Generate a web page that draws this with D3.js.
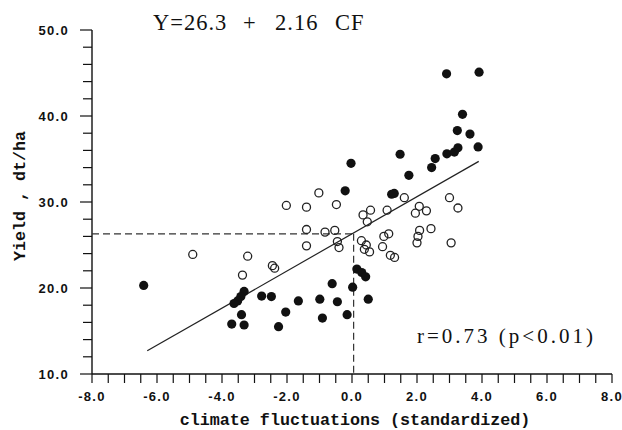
<!DOCTYPE html>
<html><head><meta charset="utf-8">
<script src="https://cdn.jsdelivr.net/npm/d3@7"></script>
<style>html,body{margin:0;padding:0;background:#fff;}svg{display:block;}</style>
</head><body>
<script>
// ---- data ----
const filledX = [2.91, 3.91, 3.40, 3.24, 3.63, 3.88, 2.92, 3.15, 3.26, 2.56, 2.45, 1.48, 1.75, -0.03, -0.21, 1.22, 1.30,
                 0.15, 0.30, 0.42, -6.41, -3.32, -3.42, -3.52, -3.63, -2.78, -2.48, -3.40, -3.70, -3.32, -2.26, -2.04, -1.65, -0.99, -0.61, -0.45, 0.02, 0.50, -0.91, -0.15];
const filledY = [44.9, 45.1, 40.2, 38.3, 37.9, 36.4, 35.6, 35.8, 36.3, 35.05, 34.0, 35.55, 33.1, 34.5, 31.3, 30.9, 31.0,
                 22.2, 21.8, 21.3, 20.3, 19.6, 19.0, 18.5, 18.2, 19.06, 19.0, 16.9, 15.8, 15.7, 15.5, 17.2, 18.5, 18.7, 20.5, 18.4, 20.1, 18.7, 16.5, 16.9];
const openX = [-4.90, -2.02, -1.40, -1.40, -1.40, -3.21, -3.37, -2.45, -2.38, -1.02, -0.48, -0.83, -0.53, -0.45, -0.40,
               1.61, 0.57, 0.34, 0.47, 1.08, 2.07, 1.95, 2.29, 3.00, 3.26, 2.08, 2.43, 2.03, 2.00, 3.05, 0.29, 0.44, 0.38, 0.54, 0.98, 1.13, 0.94, 1.18, 1.31];
const openY = [23.9, 29.6, 29.4, 26.8, 24.9, 23.7, 21.5, 22.6, 22.3, 31.06, 29.7, 26.5, 26.7, 25.4, 24.7,
               30.5, 29.05, 28.5, 27.7, 29.05, 29.5, 28.7, 28.97, 30.5, 29.3, 26.7, 26.9, 26.0, 25.25, 25.25, 25.5, 25.0, 24.5, 24.2, 26.0, 26.3, 24.8, 23.8, 23.55];
const intercept = 26.3, slope = 2.16;
const fitRange = [-6.3, 3.9];
const refPoint = [0.05, 26.3];
const xTickValues = [-8, -6, -4, -2, 0, 2, 4, 6, 8];
const yTickValues = [10, 20, 30, 40, 50];
const titleText = ["Y=26.3", "+", "2.16", "CF"];
const statText = "r=0.73 (p<0.01)";
const xTitle = "climate fluctuations (standardized)";
const yTitle = "Yield , dt/ha";

// ---- layout ----
const W = 622, H = 430;
const x = d3.scaleLinear().domain([-8, 8]).range([92, 612]);
const y = d3.scaleLinear().domain([10, 50]).range([374, 30]);
const ink = "#111";

const svg = d3.select("body").append("svg").attr("width", W).attr("height", H);

// axes
const xAxis = svg.append("g").attr("transform", `translate(0,${y(10)})`);
xAxis.append("line").attr("x1", x(-8)).attr("x2", x(8)).attr("stroke", ink).attr("stroke-width", 1.4);
xAxis.selectAll("line.t").data(d3.range(-8, 8.001, 0.5)).join("line").attr("class", "t")
  .attr("x1", d => x(d)).attr("x2", d => x(d)).attr("y1", 0).attr("y2", 9)
  .attr("stroke", ink).attr("stroke-width", 1.2);
xAxis.selectAll("text").data(xTickValues).join("text")
  .attr("x", d => x(d)).attr("y", 27).attr("text-anchor", "middle")
  .attr("font-family", "Liberation Sans, Arial, sans-serif").attr("font-weight", "bold")
  .attr("font-size", 13).attr("letter-spacing", 1.3).attr("fill", ink)
  .text(d => d3.format(".1f")(d).replace("\u2212", "-"));

const yAxis = svg.append("g").attr("transform", `translate(${x(-8)},0)`);
yAxis.append("line").attr("y1", y(10)).attr("y2", y(50)).attr("stroke", ink).attr("stroke-width", 1.4);
yAxis.selectAll("line.t").data(d3.range(10, 50.001, 2)).join("line").attr("class", "t")
  .attr("y1", d => y(d)).attr("y2", d => y(d)).attr("x1", d => d % 10 === 0 ? -12 : -9).attr("x2", 0)
  .attr("stroke", ink).attr("stroke-width", 1.2);
yAxis.selectAll("text").data(yTickValues).join("text")
  .attr("x", -23).attr("y", d => y(d) + 4.6).attr("text-anchor", "end")
  .attr("font-family", "Liberation Sans, Arial, sans-serif").attr("font-weight", "bold")
  .attr("font-size", 13).attr("letter-spacing", 1.3).attr("fill", ink)
  .text(d => d3.format(".1f")(d));

// reference dashed lines
svg.append("line").attr("x1", x(-8)).attr("x2", x(refPoint[0])).attr("y1", y(refPoint[1])).attr("y2", y(refPoint[1]))
  .attr("stroke", "#333").attr("stroke-width", 1.2).attr("stroke-dasharray", "7,4");
svg.append("line").attr("x1", x(refPoint[0])).attr("x2", x(refPoint[0])).attr("y1", y(refPoint[1])).attr("y2", y(10))
  .attr("stroke", "#333").attr("stroke-width", 1.2).attr("stroke-dasharray", "7,4");

// regression line
svg.append("line")
  .attr("x1", x(fitRange[0])).attr("y1", y(intercept + slope * fitRange[0]))
  .attr("x2", x(fitRange[1])).attr("y2", y(intercept + slope * fitRange[1]))
  .attr("stroke", "#222").attr("stroke-width", 1.2);

// points
svg.append("g").selectAll("circle").data(openX.map((v, i) => [v, openY[i]])).join("circle")
  .attr("cx", d => x(d[0])).attr("cy", d => y(d[1])).attr("r", 4)
  .attr("fill", "none").attr("stroke", "#222").attr("stroke-width", 1.3);
svg.append("g").selectAll("circle").data(filledX.map((v, i) => [v, filledY[i]])).join("circle")
  .attr("cx", d => x(d[0])).attr("cy", d => y(d[1])).attr("r", 4.6).attr("fill", ink);

// title
const serif = "Liberation Serif, Times New Roman, serif";
const tpos = [153, 243, 275, 335];
const t = svg.append("text").attr("y", 30).attr("font-family", serif).attr("font-size", 22.5)
  .attr("letter-spacing", 1).attr("fill", ink);
titleText.forEach((s, i) => t.append("tspan").attr("x", tpos[i]).text(s));

svg.append("text").attr("x", 417).attr("y", 343).attr("font-family", serif).attr("font-size", 21)
  .attr("letter-spacing", 3).attr("fill", ink).style("white-space", "pre").text(statText);

// axis titles
const mono = "Liberation Mono, Courier New, monospace";
svg.append("text").attr("x", 355).attr("y", 425).attr("text-anchor", "middle")
  .attr("font-family", mono).attr("font-size", 16.7).attr("font-weight", "bold").attr("fill", ink)
  .style("white-space", "pre").text(xTitle);
svg.append("text").attr("transform", "translate(25,196) rotate(-90)").attr("text-anchor", "middle")
  .attr("font-family", mono).attr("font-size", 16.7).attr("font-weight", "bold").attr("fill", ink)
  .style("white-space", "pre").text(yTitle);
</script>
</body></html>
